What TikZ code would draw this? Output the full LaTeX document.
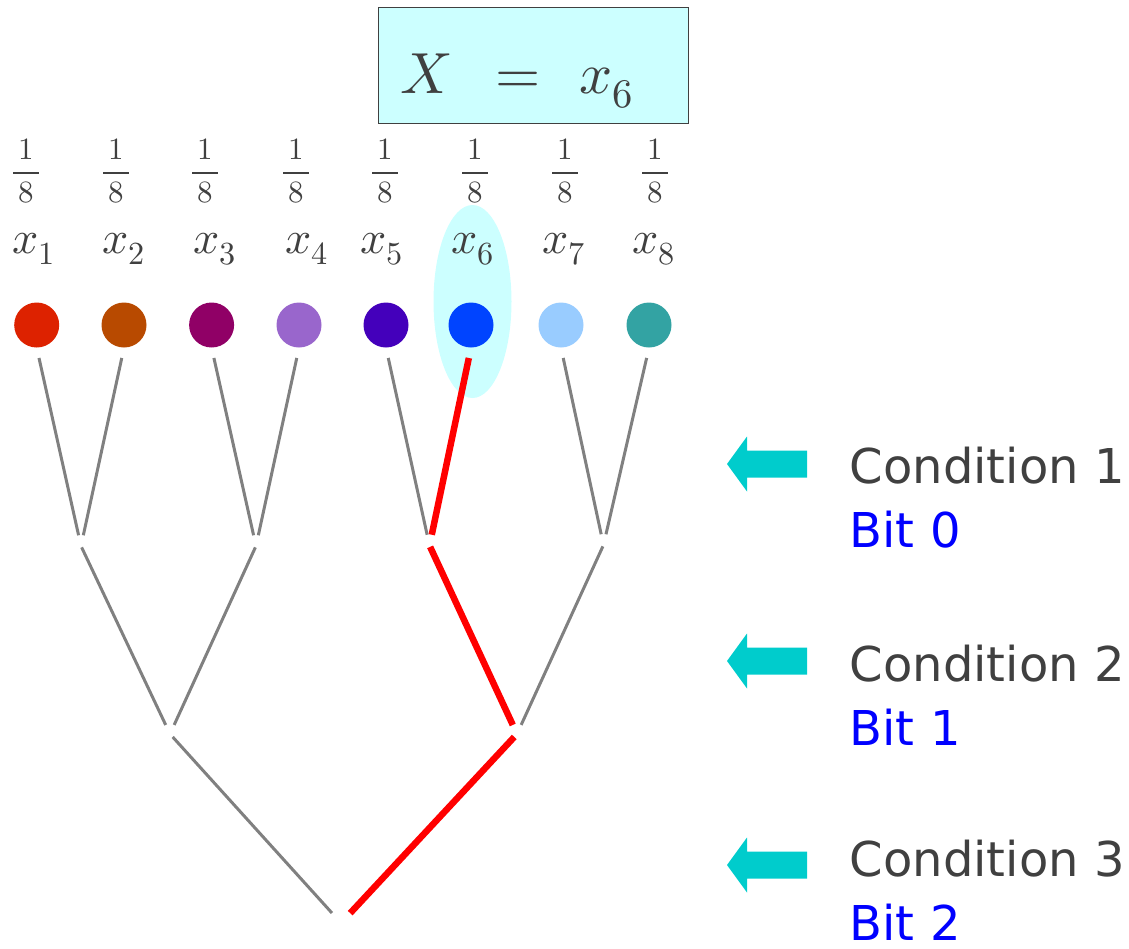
\documentclass[tikz,border=0pt]{standalone}
\usepackage{amsmath}
\usepackage{fontspec}
\usepackage{unicode-math}
\setmathfont{Latin Modern Math}
\newfontfamily\condfont{DejaVu Sans}
\usetikzlibrary{arrows}

\definecolor{hilite}{HTML}{CCFFFF}
\definecolor{ink}{HTML}{404040}
\definecolor{pointcol}{HTML}{00CCCC}
\definecolor{leaf1}{HTML}{DD2200}
\definecolor{leaf2}{HTML}{B84A00}
\definecolor{leaf3}{HTML}{900066}
\definecolor{leaf4}{HTML}{9966CC}
\definecolor{leaf5}{HTML}{4400BB}
\definecolor{leaf6}{HTML}{0044FF}
\definecolor{leaf7}{HTML}{99CCFF}
\definecolor{leaf8}{HTML}{33A3A3}

\begin{document}
\begin{tikzpicture}[x=1pt, y=-1pt,
    leaf/.style={circle, inner sep=0pt, minimum size=45pt},
    prob/.style={inner sep=0pt, text=ink, font=\fontsize{31}{33}\selectfont},
    xlabel/.style={anchor=base, inner sep=0pt, text=ink, font=\fontsize{46}{50}\selectfont},
    resultbox/.style={draw=ink, fill=hilite, line width=0.8pt, anchor=north west,
        text width=266pt, inner xsep=22pt, inner ysep=10pt, align=left,
        text height=76pt, text depth=20pt,
        text=ink, font=\fontsize{58}{62}\selectfont},
    branch/.style={draw=gray, line width=3pt},
    chosen/.style={draw=red, line width=6.5pt},
    twig/.style={shorten <=10.5pt, shorten >=11pt},
    limb/.style={shorten <=1.5pt, shorten >=10pt},
    trunk/.style={shorten <=4pt, shorten >=13.5pt},
    pointer/.style={fill=pointcol},
    cond/.style={anchor=base west, inner sep=0pt, text=ink, font=\condfont\fontsize{48}{54}\selectfont},
    bit/.style={anchor=base west, inner sep=0pt, text=blue, font=\condfont\fontsize{48}{54}\selectfont}]

    \useasboundingbox (0,0) rectangle (1129,948);

    % Highlight of the chosen outcome
    \fill[hilite] (472.5,301.5) ellipse (39 and 96.5);

    % Result
    \node[resultbox] (result) at (378,7) {$X\hspace{28pt}=\hspace{23pt}x_{6}$};

    % Probabilities and outcomes
    \foreach \px [count=\i] in {26,116,205,296,385,475,565,655}
        \node[prob] (p\i) at (\px,171) {$\dfrac{\,1\,}{\,8\,}$};
    \foreach \lx [count=\i] in {34,124,215,307,382,473,564,654}
        \node[xlabel] (x\i) at (\lx,253) {$x_{\i}$};

    % Leaves
    \foreach \cx [count=\i] in {36.7,124,211.6,299,386,471,561,649}
        \node[leaf, fill=leaf\i] (c\i) at (\cx,325) {};

    % Junctions
    \coordinate (j1) at (81,546);
    \coordinate (j2) at (256,546);
    \coordinate (j3) at (429.5,545.5);
    \coordinate (j4) at (603.5,545);
    \coordinate (k1) at (170,734);
    \coordinate (k2) at (517,734);
    \coordinate (root) at (341,923);

    % Tree
    \draw[branch, twig] (c1.south) -- (j1);
    \draw[branch, twig] (c2.south) -- (j1);
    \draw[branch, twig] (c3.south) -- (j2);
    \draw[branch, twig] (c4.south) -- (j2);
    \draw[branch, twig] (c5.south) -- (j3);
    \draw[chosen, twig] (c6.south) -- (j3);
    \draw[branch, twig] (c7.south) -- (j4);
    \draw[branch, twig] (c8.south) -- (j4);

    \draw[branch, limb] (j1) -- (k1);
    \draw[branch, limb] (j2) -- (k1);
    \draw[chosen, limb] (j3) -- (k2);
    \draw[branch, limb] (j4) -- (k2);

    \draw[branch, trunk] (k1) -- (root);
    \draw[chosen, trunk] (k2) -- (root);

    % Conditions
    \foreach \ay/\ty/\b [count=\i] in {464/483/0, 661/681/1, 865/876/2} {
        \coordinate (tip\i) at (727,\ay);
        \fill[pointer] (tip\i) -- ++(20,-27.5) -- ++(0,14) -- ++(60,0)
            -- ++(0,27) -- ++(-60,0) -- ++(0,14) -- cycle;
        \node[cond] (cond\i) at (849.5,\ty) {Condition \i};
        \node[bit] (bit\i) at (849.5,\ty+64) {Bit \b};
    }

\end{tikzpicture}
\end{document}
